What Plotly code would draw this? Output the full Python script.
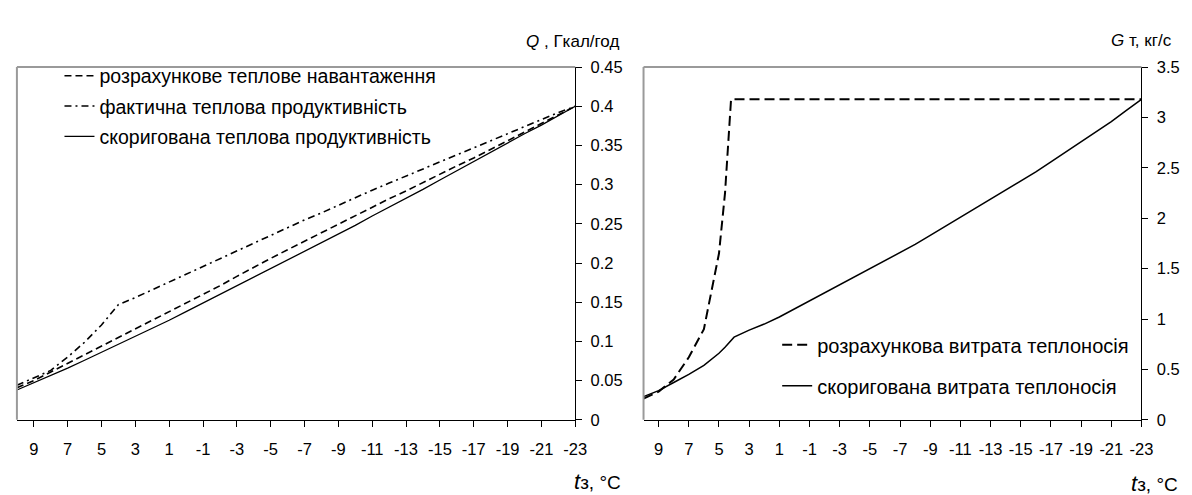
import plotly.graph_objects as go

# ---------------- data ----------------
temps = [10, 9, 8, 7, 6, 5, 4, 3, 2, 1, 0, -1, -2, -3, -4, -5, -6, -7, -8, -9,
         -10, -11, -12, -13, -14, -15, -16, -17, -18, -19, -20, -21, -22, -23]

q_design = [0.041, 0.050, 0.061, 0.072, 0.083, 0.094, 0.105, 0.116, 0.126, 0.137,
            0.148, 0.160, 0.171, 0.183, 0.195, 0.206, 0.217, 0.228, 0.239, 0.250,
            0.260, 0.271, 0.282, 0.292, 0.303, 0.313, 0.324, 0.334, 0.345, 0.357,
            0.368, 0.378, 0.389, 0.400]
q_actual = [0.044, 0.053, 0.063, 0.080, 0.099, 0.121, 0.147, 0.156, 0.166, 0.175,
            0.185, 0.195, 0.205, 0.215, 0.225, 0.235, 0.245, 0.255, 0.264, 0.274,
            0.284, 0.293, 0.302, 0.311, 0.320, 0.329, 0.338, 0.347, 0.356, 0.365,
            0.374, 0.383, 0.392, 0.400]
q_corrected = [0.038, 0.047, 0.056, 0.066, 0.076, 0.086, 0.096, 0.106, 0.116, 0.127,
               0.138, 0.149, 0.159, 0.170, 0.181, 0.192, 0.203, 0.214, 0.226, 0.237,
               0.248, 0.260, 0.271, 0.283, 0.294, 0.306, 0.318, 0.329, 0.341, 0.353,
               0.365, 0.376, 0.388, 0.400]

g_temps = [10, 9, 8, 7, 6, 5, 4.6, 4.2, 4, 3, 2, 1, 0, -1, -2, -3, -4, -5, -6, -7, -8, -9,
           -10, -11, -12, -13, -14, -15, -16, -17, -18, -19, -20, -21, -22, -23]
g_design = [0.21, 0.28, 0.40, 0.62, 0.90, 1.65, 2.25, 3.18, 3.18, 3.18, 3.18, 3.18, 3.18,
            3.18, 3.18, 3.18, 3.18, 3.18, 3.18, 3.18, 3.18, 3.18, 3.18, 3.18, 3.18,
            3.18, 3.18, 3.18, 3.18, 3.18, 3.18, 3.18, 3.18, 3.18, 3.18, 3.18]
g_corrected = [0.23, 0.29, 0.37, 0.45, 0.54, 0.66, 0.72, 0.79, 0.82, 0.89, 0.95, 1.02, 1.10,
               1.18, 1.26, 1.34, 1.42, 1.50, 1.58, 1.66, 1.74, 1.83, 1.92, 2.01, 2.10,
               2.19, 2.28, 2.37, 2.46, 2.56, 2.66, 2.76, 2.86, 2.96, 3.07, 3.18]

x_ticks = [9, 7, 5, 3, 1, -1, -3, -5, -7, -9, -11, -13, -15, -17, -19, -21, -23]
x_ticklabels = [str(v) for v in x_ticks]
q_ticks = [0, 0.05, 0.1, 0.15, 0.2, 0.25, 0.3, 0.35, 0.4, 0.45]
q_ticklabels = ["0", "0.05", "0.1", "0.15", "0.2", "0.25", "0.3", "0.35", "0.4", "0.45"]
g_ticks = [0, 0.5, 1, 1.5, 2, 2.5, 3, 3.5]
g_ticklabels = ["0", "0.5", "1", "1.5", "2", "2.5", "3", "3.5"]

names_left = ["розрахункове теплове навантаження",
              "фактична теплова продуктивність",
              "скоригована теплова продуктивність"]
names_right = ["розрахункова витрата теплоносія",
               "скоригована витрата теплоносія"]

# ---------------- figure ----------------
W, H = 1192, 495
FONT = "Liberation Sans, Arial, sans-serif"

def px_x(p):
    return p / W

def px_y(p):
    return (H - p) / H

fig = go.Figure()

fig.add_trace(go.Scatter(x=temps, y=q_design, name=names_left[0], mode="lines",
                         line=dict(color="black", width=1.6, dash="7px,4px"),
                         xaxis="x", yaxis="y", legend="legend", legendgroup="a"))
fig.add_trace(go.Scatter(x=temps, y=q_actual, name=names_left[1], mode="lines",
                         line=dict(color="black", width=1.6, dash="7px,4px,2px,4px"),
                         xaxis="x", yaxis="y", legend="legend", legendgroup="b"))
fig.add_trace(go.Scatter(x=temps, y=q_corrected, name=names_left[2], mode="lines",
                         line=dict(color="black", width=1.3),
                         xaxis="x", yaxis="y", legend="legend", legendgroup="c"))

fig.add_trace(go.Scatter(x=g_temps, y=g_design, name=names_right[0], mode="lines",
                         line=dict(color="black", width=2, dash="10px,5px"),
                         xaxis="x2", yaxis="y2", legend="legend2", legendgroup="d"))
fig.add_trace(go.Scatter(x=g_temps, y=g_corrected, name=names_right[1], mode="lines",
                         line=dict(color="black", width=1.5),
                         xaxis="x2", yaxis="y2", legend="legend2", legendgroup="e"))

ydom = [px_y(418), px_y(52)]
TICKFONT = dict(family=FONT, size=16.5, color="black")
common_x = dict(range=[10, -23], tickmode="array", tickvals=x_ticks, ticktext=x_ticklabels,
                ticks="outside", ticklen=6, tickcolor="black", tickwidth=1,
                showline=True, linecolor="black", linewidth=1, showgrid=False,
                zeroline=False, ticklabelstandoff=8, tickfont=TICKFONT)
common_y = dict(side="right", ticks="outside", ticklen=6, tickcolor="black", tickwidth=1,
                showline=True, linecolor="black", linewidth=1, showgrid=False,
                zeroline=False, tickmode="array", domain=ydom, ticklabelstandoff=5,
                tickfont=TICKFONT)

LEGFONT = dict(family=FONT, size=19.5, color="black")
fig.update_layout(
    width=W, height=H,
    margin=dict(l=0, r=0, t=0, b=0),
    paper_bgcolor="white", plot_bgcolor="white",
    font=dict(family=FONT, size=16, color="black"),
    xaxis=dict(domain=[px_x(9), px_x(573)], anchor="y", **common_x),
    yaxis=dict(anchor="x", range=[0, 0.45], tickvals=q_ticks, ticktext=q_ticklabels, **common_y),
    xaxis2=dict(domain=[px_x(642), px_x(1145)], anchor="y2", **common_x),
    yaxis2=dict(anchor="x2", range=[0, 3.5], tickvals=g_ticks, ticktext=g_ticklabels, **common_y),
    legend=dict(x=px_x(52), y=px_y(41), xanchor="left", yanchor="top",
                bgcolor="rgba(0,0,0,0)", borderwidth=0, tracegroupgap=2,
                font=LEGFONT),
    legend2=dict(x=px_x(777), y=px_y(320), xanchor="left", yanchor="top",
                 bgcolor="rgba(0,0,0,0)", borderwidth=0, tracegroupgap=12,
                 font=dict(family=FONT, size=20, color="black")),
    showlegend=True,
)

# gray plot-area borders (left and top)
for xr, yr in (("x domain", "y domain"), ("x2 domain", "y2 domain")):
    fig.add_shape(type="line", xref=xr, yref=yr, x0=0, x1=0, y0=0, y1=1,
                  line=dict(color="#9a9a9a", width=2))
    fig.add_shape(type="line", xref=xr, yref=yr, x0=0, x1=1, y0=1, y1=1,
                  line=dict(color="#9a9a9a", width=2))

anns = [
    ("<i>Q</i> , Гкал/год", 619, 25, 17),
    ("<i>G</i> т, кг/с", 1178, 24, 17),
    ("<i><span style='font-size:22px'>t</span></i>з, °C", 621, 482, 19),
    ("<i><span style='font-size:22px'>t</span></i>з, °C", 1184, 484, 19),
]
for text, xr, yr, fs in anns:
    fig.add_annotation(text=text, x=px_x(xr), y=px_y(yr), xref="paper", yref="paper",
                       xanchor="right", yanchor="middle", showarrow=False,
                       font=dict(family=FONT, size=fs, color="black"))

fig.write_html("out.html")
